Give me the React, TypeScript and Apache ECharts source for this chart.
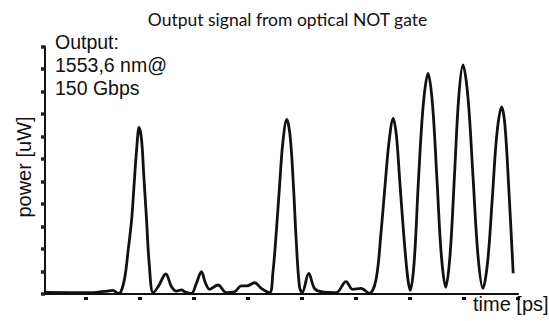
import React, { useEffect, useRef } from "react";
import * as echarts from "echarts";

const titleText = "Output signal from optical NOT gate";
const noteLines = ["Output:", "1553,6 nm@", "150 Gbps"];
const yAxisName = "power [uW]";
const xAxisName = "time [ps]";

const xTicks = [10, 20, 30, 40, 50, 60, 70, 80, 90];

const timePs = [
  2.43, 10.74, 12.59, 13.88, 14.99, 15.91, 16.46, 17.2, 17.81, 18.44, 18.92, 19.36, 19.84, 20.29,
  20.71, 21.21, 21.69, 22.43, 23.35, 24.78, 25.83, 26.75, 27.68, 28.29, 29.52, 30.4, 31.37, 32.1,
  32.9, 34.44, 35.99, 37.52, 38.76, 39.79, 41.22, 42.45, 43.99, 44.6, 45.22, 45.83, 46.44, 47.18,
  47.81, 48.42, 48.92, 49.53, 50.03, 51.25, 52.3, 53.54, 56.31, 58.15, 59.37, 60.92, 62.46, 63.69,
  64.62, 65.41, 66.15, 66.89, 67.5, 68.13, 68.92, 69.58, 70.04, 70.77, 71.55, 72.45, 73.35, 74.17,
  75.0, 75.81, 76.62, 77.42, 78.23, 79.02, 79.82, 80.74, 81.67, 82.59, 83.51, 84.38, 85.25, 86.1,
  86.97, 87.58, 88.31, 89.11,
];

const powerUW = [
  0.07, 0.06, 0.09, 0.13, 0.16, 0.03, 0.1, 0.77, 1.96, 3.29, 4.93, 6.4, 7.41, 6.84,
  5.21, 3.29, 1.38, 0.06, 0.32, 0.89, 0.32, 0.13, 0.18, 0.1, 0.03, 0.45, 0.99, 0.5,
  0.21, 0.4, 0.06, 0.1, 0.36, 0.36, 0.5, 0.25, 0.06, 0.93, 2.71, 4.77, 6.71, 7.76,
  6.99, 4.77, 2.4, 0.32, 0.06, 0.92, 0.25, 0.1, 0.06, 0.55, 0.21, 0.25, 0.03, 0.62,
  2.7, 4.92, 6.84, 7.8, 6.99, 4.92, 2.4, 0.71, 0.16, 1.42, 4.98, 8.4, 9.81, 8.42,
  5.05, 1.69, 0.3, 1.75, 5.24, 8.73, 10.18, 8.72, 5.21, 1.71, 0.25, 1.44, 4.29, 7.14,
  8.32, 7.51, 4.62, 0.92,
];

export default function App() {
  const ref = useRef<HTMLDivElement>(null);
  useEffect(() => {
    if (!ref.current) return;
    const chart = echarts.init(ref.current, undefined, { renderer: "svg" });
    const data = timePs.map((t, i) => [t, powerUW[i]]);
    const arial = "'Liberation Sans', Arial, sans-serif";
    chart.setOption({
      animation: false,
      backgroundColor: "#ffffff",
      grid: { left: 45, right: 31, top: 46.5, bottom: 27 },
      xAxis: {
        type: "value",
        min: 2.4,
        max: 90,
        axisLine: { show: true, lineStyle: { color: "#111", width: 2 } },
        axisTick: {
          show: true,
          customValues: xTicks,
          length: 6,
          lineStyle: { color: "#111", width: 4, type: [3, 3], dashOffset: 3 },
        },
        axisLabel: { show: false },
        splitLine: { show: false },
      },
      yAxis: {
        type: "value",
        min: 0,
        max: 11,
        interval: 1,
        axisLine: { show: true, lineStyle: { color: "#111", width: 2 } },
        axisTick: { show: true, length: 4, lineStyle: { color: "#222", width: 3.5 } },
        axisLabel: { show: false },
        splitLine: { show: false },
      },
      series: [
        {
          type: "line",
          data,
          smooth: 0.35,
          showSymbol: false,
          symbol: "none",
          lineStyle: { color: "#111", width: 2.8 },
        },
      ],
      graphic: [
        {
          type: "text",
          x: 287.5,
          y: 19,
          style: {
            text: titleText,
            font: "17.5px Lato, 'Open Sans', sans-serif",
            fill: "#111",
            align: "center",
            verticalAlign: "middle",
          },
        },
        ...noteLines.map((line, i) => ({
          type: "text",
          x: 55,
          y: 41.5 + i * 23.4,
          style: {
            text: line,
            font: "19.5px " + arial,
            fill: "#111",
            align: "left",
            verticalAlign: "middle",
          },
        })),
        {
          type: "text",
          x: 24,
          y: 167,
          rotation: Math.PI / 2,
          style: {
            text: yAxisName,
            font: "20px " + arial,
            fill: "#111",
            align: "center",
            verticalAlign: "middle",
          },
        },
        {
          type: "text",
          x: 473,
          y: 304,
          style: {
            text: xAxisName,
            font: "20px " + arial,
            fill: "#111",
            align: "left",
            verticalAlign: "middle",
          },
        },
      ],
    });
    return () => chart.dispose();
  }, []);
  return (
    <div
      ref={ref}
      style={{ position: "fixed", left: 0, top: 0, width: 549, height: 321 }}
    />
  );
}
